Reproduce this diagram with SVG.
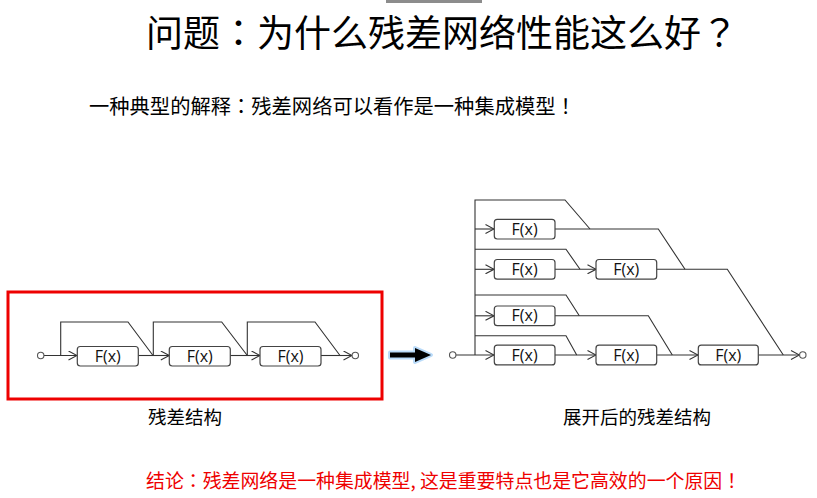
<svg xmlns="http://www.w3.org/2000/svg" width="817" height="498" viewBox="0 0 817 498">
<style>
.cjk{font-family:"Noto Sans CJK SC","Noto Sans",sans-serif;fill:#000}
.p{font-family:"Noto Sans CJK JP","Noto Sans CJK SC",sans-serif}
.fx{font-family:"Open Sans","Liberation Sans",sans-serif;font-size:16px;fill:#111;text-anchor:middle}
.box{fill:#fff;stroke:#444;stroke-width:1.2}
.ln{fill:none;stroke:#333;stroke-width:1.1}
.arr{fill:none;stroke:#333;stroke-width:1.1;marker-end:url(#chev)}
.io{fill:#fff;stroke:#555;stroke-width:1.1}
</style>
<defs>
<marker id="chev" viewBox="0 0 10 10" refX="9.5" refY="5" markerWidth="10" markerHeight="10" markerUnits="userSpaceOnUse" orient="auto">
<path d="M1,0.5 L9.5,5 L1,9.5" fill="none" stroke="#333" stroke-width="1.1"/>
</marker>
</defs>
<rect width="817" height="498" fill="#fff"/>
<rect id="topbar" x="386" y="0" width="96" height="3" fill="#8c8c8c"/>
<text class="cjk" x="146" y="47" font-size="37">问题<tspan class="p">：</tspan>为什么残差网络性能这么好<tspan class="p">？</tspan></text>
<text class="cjk" x="89" y="114" font-size="20.3">一种典型的解释<tspan class="p">：</tspan>残差网络可以看作是一种集成模型<tspan class="p">！</tspan></text>
<rect id="redframe" x="8" y="292" width="374" height="107" fill="none" stroke="#ee0000" stroke-width="3"/>
<g id="connectors">
<path class="arr" d="M44,355.5 H77"/>
<path class="ln" d="M60.7,355.5 V322 H128 L153,355.5"/>
<path class="arr" d="M138.3,355.5 H169.3"/>
<path class="ln" d="M153.3,355.5 V322 H221.7 L247.3,355.5"/>
<path class="arr" d="M230,355.5 H260"/>
<path class="ln" d="M247.3,355.5 V322 H315 L340,355.5"/>
<path class="arr" d="M320.7,355.5 H352"/>
<path class="arr" d="M456,355 H494"/>
<path class="ln" d="M475,355 V200 H565 L590,229"/>
<path class="arr" d="M475,229 H494"/>
<path class="ln" d="M555,229 H658.3 L685,269.3"/>
<path class="ln" d="M475,249.3 H566 L580,269.3"/>
<path class="arr" d="M475,269.3 H494"/>
<path class="arr" d="M555,269.3 H596"/>
<path class="ln" d="M657,269.3 H727.3 L783.3,355"/>
<path class="ln" d="M475,295 H566 L579.3,315.8"/>
<path class="arr" d="M475,315.8 H494"/>
<path class="ln" d="M555,315.8 H648.3 L672.3,355"/>
<path class="ln" d="M475,335.7 H566 L576.7,355"/>
<path class="arr" d="M555,355 H596"/>
<path class="arr" d="M656.7,355 H698"/>
<path class="arr" d="M758.3,355 H799.5"/>
</g>
<g id="l_in"><circle class="io" cx="40.7" cy="355.5" r="3.2"/></g>
<g id="l_out"><circle class="io" cx="355.3" cy="355.5" r="3.2"/></g>
<g id="l_f1"><rect class="box" x="77.3" y="346.5" width="61" height="19.5" rx="3"/><text class="fx" x="107.8" y="361.8">F(x)</text></g>
<g id="l_f2"><rect class="box" x="169.3" y="346.5" width="61" height="19.5" rx="3"/><text class="fx" x="199.8" y="361.8">F(x)</text></g>
<g id="l_f3"><rect class="box" x="260" y="346.5" width="61" height="19.5" rx="3"/><text class="fx" x="290.5" y="361.8">F(x)</text></g>
<g id="r_in"><circle class="io" cx="452.7" cy="355" r="3.2"/></g>
<g id="r_out"><circle class="io" cx="802.8" cy="355" r="3.2"/></g>
<g id="r_a"><rect class="box" x="494.3" y="219.3" width="60.7" height="19.7" rx="3"/><text class="fx" x="524.6" y="234.6">F(x)</text></g>
<g id="r_b"><rect class="box" x="494.3" y="259.5" width="60.7" height="19.7" rx="3"/><text class="fx" x="524.6" y="274.8">F(x)</text></g>
<g id="r_c"><rect class="box" x="596" y="259.5" width="60.7" height="19.7" rx="3"/><text class="fx" x="626.3" y="274.8">F(x)</text></g>
<g id="r_d"><rect class="box" x="494.3" y="306" width="60.7" height="19.7" rx="3"/><text class="fx" x="524.6" y="321.3">F(x)</text></g>
<g id="r_e"><rect class="box" x="494.3" y="345.2" width="60.7" height="19.7" rx="3"/><text class="fx" x="524.6" y="360.5">F(x)</text></g>
<g id="r_f"><rect class="box" x="596" y="345.2" width="60.7" height="19.7" rx="3"/><text class="fx" x="626.3" y="360.5">F(x)</text></g>
<g id="r_g"><rect class="box" x="698.3" y="345.2" width="60" height="19.7" rx="3"/><text class="fx" x="728.3" y="360.5">F(x)</text></g>
<g id="bigarrow">
<path d="M390,352.5 H415 V348 L431,355 L415,362 V357.5 H390 Z" fill="none" stroke="#a9d2f7" stroke-width="4" stroke-linejoin="round" opacity="0.8"/>
<path d="M390,352.5 H415 V348 L431,355 L415,362 V357.5 H390 Z" fill="#000"/>
</g>
<text class="cjk" x="148" y="424" font-size="18.5">残差结构</text>
<text class="cjk" x="563" y="424" font-size="18.5">展开后的残差结构</text>
<text class="cjk" x="146" y="488" font-size="18.9" style="fill:#ee0000">结论<tspan class="p">：</tspan>残差网络是一种集成模型, 这是重要特点也是它高效的一个原因<tspan class="p">！</tspan></text>
</svg>
